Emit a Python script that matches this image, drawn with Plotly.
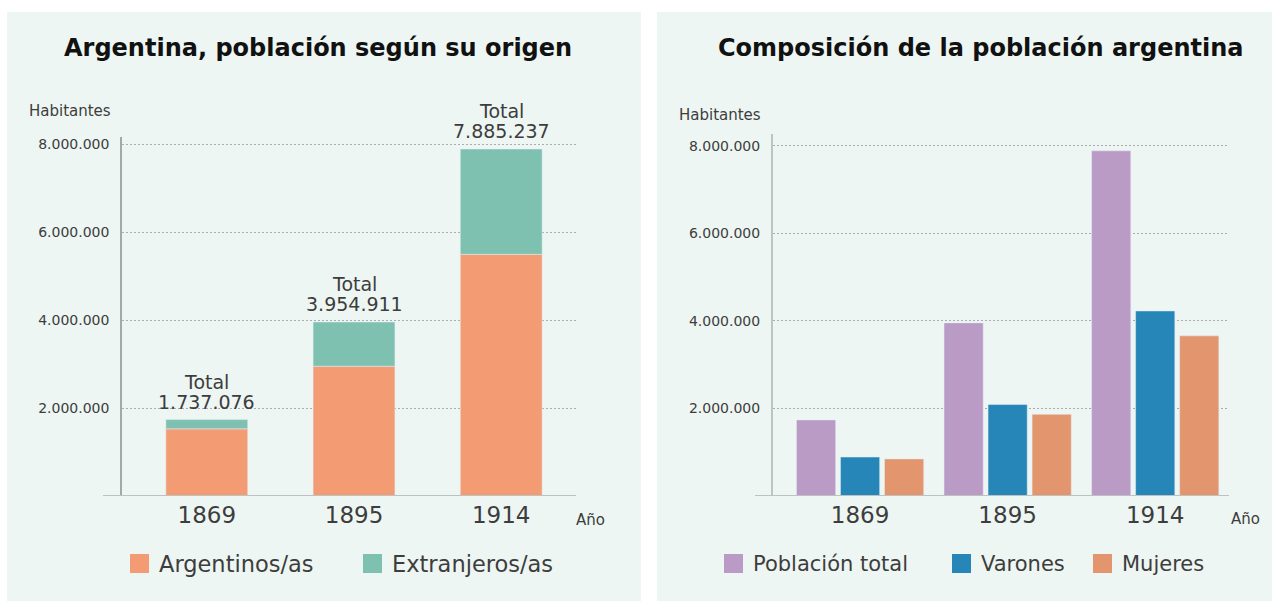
import plotly.graph_objects as go

W, H = 1279, 603

# ---- data -------------------------------------------------------------
years = ["1869", "1895", "1914"]

# Población según su origen (barras apiladas)
argentinos = [1526746, 2950384, 5494066]
extranjeros = [210330, 1004527, 2391171]
totales = [1737076, 3954911, 7885237]

# Composición de la población (barras agrupadas)
poblacion_total = [1737076, 3954911, 7885237]
varones = [890000, 2088919, 4227023]
mujeres = [847076, 1865992, 3658214]

y_tick_values = [2000000, 4000000, 6000000, 8000000]
y_tick_labels = ["2.000.000", "4.000.000", "6.000.000", "8.000.000"]

left_names = ["Argentinos/as", "Extranjeros/as"]
right_names = ["Población total", "Varones", "Mujeres"]

# ---- style ------------------------------------------------------------
FONT = "DejaVu Sans"
TEXT = "#3d3d3d"
PANEL = "#EDF6F2"
C_ARG = "#F39C74"
C_EXT = "#7FC1B0"
C_TOT = "#B99BC6"
C_VAR = "#2686B8"
C_MUJ = "#E3956E"


def px(x):
    return x / W


def py(y):
    return 1 - y / H


def fmt(v):
    return f"{v:,}".replace(",", ".")


fig = go.Figure()

# left chart: stacked bars drawn with an explicit base
fig.add_trace(go.Bar(x=years, y=argentinos, name=left_names[0], marker_color=C_ARG,
                     width=0.556, offsetgroup="o", xaxis="x", yaxis="y",
                     showlegend=False))
fig.add_trace(go.Bar(x=years, y=extranjeros, base=argentinos, name=left_names[1],
                     marker_color=C_EXT, width=0.556, offsetgroup="o",
                     xaxis="x", yaxis="y", showlegend=False))

# right chart: grouped bars
for vals, name, col in zip([poblacion_total, varones, mujeres], right_names,
                           [C_TOT, C_VAR, C_MUJ]):
    fig.add_trace(go.Bar(x=years, y=vals, name=name, marker_color=col,
                         xaxis="x2", yaxis="y2", showlegend=False))

axis_common = dict(showgrid=False, zeroline=False, ticks="", type="category",
                   tickfont=dict(family=FONT, size=23, color=TEXT),
                   ticklabelstandoff=3, fixedrange=True)
yaxis_common = dict(tickvals=y_tick_values, ticktext=y_tick_labels,
                    showgrid=True, gridcolor="#A9ADAB", griddash="2px,2px",
                    gridwidth=1, zeroline=False, ticks="", showline=True,
                    tickfont=dict(family=FONT, size=14, color=TEXT),
                    ticklabelstandoff=8, fixedrange=True)

fig.update_layout(
    width=W, height=H,
    margin=dict(l=0, r=0, t=0, b=0),
    paper_bgcolor="white",
    plot_bgcolor="rgba(0,0,0,0)",
    barmode="group", bargap=0.105, bargroupgap=0.11,
    showlegend=False,
    xaxis=dict(domain=[px(122), px(576)], range=[-0.576, 2.508], anchor="y",
               **axis_common),
    yaxis=dict(domain=[py(496), py(137)], range=[0, 8.16e6], anchor="x",
               linecolor="#A6A8A7", linewidth=1.5, **yaxis_common),
    xaxis2=dict(domain=[px(773), px(1229)], range=[-0.59, 2.50], anchor="y2",
                **axis_common),
    yaxis2=dict(domain=[py(496), py(134)], range=[0, 8.27e6], anchor="x2",
                linecolor="#BFC3C1", linewidth=2, **yaxis_common),
)

shapes = [
    # panel backgrounds
    dict(type="rect", xref="paper", yref="paper", x0=px(7), x1=px(641),
         y0=py(601), y1=py(12), fillcolor=PANEL, line=dict(width=0), layer="below"),
    dict(type="rect", xref="paper", yref="paper", x0=px(657), x1=px(1272),
         y0=py(601), y1=py(12), fillcolor=PANEL, line=dict(width=0), layer="below"),
    # baselines
    dict(type="line", xref="paper", yref="y", x0=px(103), x1=px(576), y0=0, y1=0,
         line=dict(color="#BDC1BF", width=2), layer="above"),
    dict(type="line", xref="paper", yref="y2", x0=px(755), x1=px(1229), y0=0, y1=0,
         line=dict(color="#BDC1BF", width=2), layer="above"),
]

annotations = []


def text(x, y, s, size, color=TEXT, bold=False, xanchor="center", **kw):
    annotations.append(dict(
        xref="paper", yref="paper", x=px(x), y=py(y), text=f"<b>{s}</b>" if bold else s,
        showarrow=False, xanchor=xanchor, yanchor="middle",
        font=dict(family=FONT, size=size, color=color), **kw))


# titles
text(318, 48, "Argentina, población según su origen", 24, color="#111111", bold=True)
text(981, 48, "Composición de la población argentina", 24, color="#111111", bold=True)

# axis captions
text(113, 111, "Habitantes", 15, xanchor="right")
text(763, 115, "Habitantes", 15, xanchor="right")
text(574, 520, "Año", 15, xanchor="left")
text(1229, 519, "Año", 15, xanchor="left")

# total labels above the stacked bars (category index on the x axis)
for i, tot in enumerate(totales):
    annotations.append(dict(xref="x", yref="y", x=i, y=tot, text=fmt(tot),
                            showarrow=False, yanchor="middle", yshift=18,
                            font=dict(family=FONT, size=19, color=TEXT)))
    annotations.append(dict(xref="x", yref="y", x=i, y=tot, text="Total",
                            showarrow=False, yanchor="middle", yshift=38,
                            font=dict(family=FONT, size=19, color=TEXT)))

# legends
legend_items = [
    (130, left_names[0], C_ARG, 22.5), (363, left_names[1], C_EXT, 22.5),
    (724, right_names[0], C_TOT, 21), (952, right_names[1], C_VAR, 21),
    (1093, right_names[2], C_MUJ, 21),
]
for x0, name, col, size in legend_items:
    shapes.append(dict(type="rect", xref="paper", yref="paper", x0=px(x0),
                       x1=px(x0 + 19), y0=py(573), y1=py(554), fillcolor=col,
                       line=dict(width=0)))
    text(x0 + 27, 564, name, size, xanchor="left")

fig.update_layout(shapes=shapes, annotations=annotations)

fig.write_html("out.html")
